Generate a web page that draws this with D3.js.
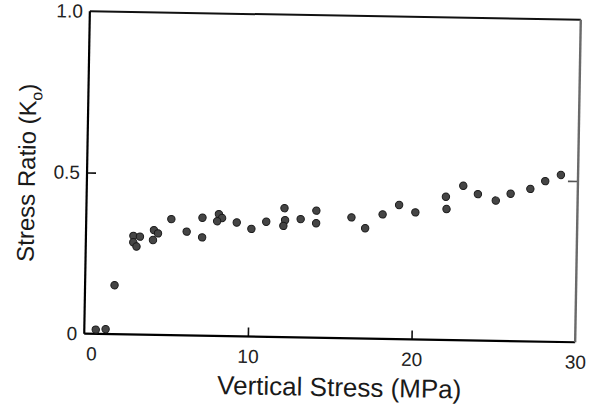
<!DOCTYPE html>
<html>
<head>
<meta charset="utf-8">
<script src="https://cdn.jsdelivr.net/npm/d3@7"></script>
<style>
  body { margin: 0; background: #fff; }
  text { font-family: "Liberation Sans", Arial, sans-serif; }
</style>
</head>
<body>
<div id="chart"></div>
<script>
// values
var stress = [0.7, 1.3, 1.8, 2.9, 3.3, 2.9, 3.1, 4.15, 4.4, 4.1, 5.2, 6.15, 7.1, 7.1,
              8.1, 8.3, 8.0, 9.2, 10.1, 11.0, 12.1, 12.15, 12.05, 13.1, 14.05, 14.05,
              16.2, 17.05, 18.1, 19.1, 20.1, 21.95, 22.0, 23.0, 23.9, 25.0, 25.9, 27.1,
              28.0, 28.95];
var ratio = [0.007, 0.009, 0.152, 0.306, 0.304, 0.286, 0.273, 0.325, 0.315, 0.294, 0.36, 0.322,
             0.366, 0.305, 0.378, 0.366, 0.356, 0.353, 0.334, 0.357, 0.40, 0.363, 0.345,
             0.367, 0.394, 0.355, 0.375, 0.342, 0.386, 0.416, 0.394, 0.444, 0.406, 0.479,
             0.454, 0.435, 0.457, 0.473, 0.498, 0.518];
var xTicks = [0, 10, 20, 30];
var yTicks = [0, 0.5, 1.0];
var yTickLabels = ["0", "0.5", "1.0"];

var margin = {top: 15.5, right: 17, bottom: 72, left: 87},
    width = 595 - margin.left - margin.right,
    height = 410 - margin.top - margin.bottom;

var svg = d3.select("#chart")
  .append("svg")
    .attr("width", 595)
    .attr("height", 410);

// the scan is turned about one degree clockwise
var root = svg.append("g")
    .attr("transform", "rotate(1,332,177)");

var g = root.append("g")
    .attr("transform", "translate(" + margin.left + "," + margin.top + ")");

var x = d3.scaleLinear().domain([0, 30]).range([0, width]);
var y = d3.scaleLinear().domain([0, 1]).range([height, 0]);

// bottom axis, ticks pointing inward
var xAxis = g.append("g")
    .attr("transform", "translate(0," + height + ")")
    .call(d3.axisBottom(x).tickValues(xTicks).tickSizeInner(-9).tickSizeOuter(0).tickPadding(13));
xAxis.select(".domain").remove();
xAxis.selectAll(".tick line")
    .attr("stroke", "#111").attr("stroke-width", 1.6)
    .filter(function(d) { return d === 0 || d === 30; }).remove();
xAxis.selectAll(".tick text")
    .attr("font-size", 19).attr("fill", "#222")
    .attr("dx", function(d) { return d === 0 ? 7 : 0; });

// left axis
var yAxis = g.append("g")
    .call(d3.axisLeft(y).tickValues(yTicks).tickSizeInner(-9).tickSizeOuter(0).tickPadding(7)
      .tickFormat(function(d, i) { return yTickLabels[i]; }));
yAxis.select(".domain").remove();
yAxis.selectAll(".tick line")
    .attr("stroke", "#111").attr("stroke-width", 1.6)
    .filter(function(d) { return d === 0 || d === 1; }).remove();
yAxis.selectAll(".tick text")
    .attr("font-size", 19).attr("fill", "#222");

// right side: only the 0.5 tick
var yRight = g.append("g")
    .attr("transform", "translate(" + width + ",0)")
    .call(d3.axisRight(y).tickValues([0.5]).tickSizeInner(-10).tickSizeOuter(0).tickFormat(""));
yRight.select(".domain").remove();
yRight.selectAll(".tick line").attr("stroke", "#555").attr("stroke-width", 1.6);

// frame
g.append("line").attr("x1", 0).attr("x2", width).attr("y1", 0).attr("y2", 0)
    .attr("stroke", "#111").attr("stroke-width", 2);
g.append("line").attr("x1", 0).attr("x2", 0).attr("y1", 0).attr("y2", height)
    .attr("stroke", "#000").attr("stroke-width", 2.2);
g.append("line").attr("x1", 0).attr("x2", width).attr("y1", height).attr("y2", height)
    .attr("stroke", "#000").attr("stroke-width", 2.2);
g.append("line").attr("x1", width).attr("x2", width).attr("y1", 0).attr("y2", height)
    .attr("stroke", "#6a6a6a").attr("stroke-width", 2.4);

// points
g.selectAll("circle")
    .data(stress)
  .enter().append("circle")
    .attr("cx", function(d) { return x(d); })
    .attr("cy", function(d, i) { return y(ratio[i]) - (ratio[i] < 0.02 ? 2 : 0); })
    .attr("r", 3.7)
    .style("fill", "#454545")
    .style("stroke", "#1a1a1a")
    .style("stroke-width", 1);

// axis titles
root.append("text")
    .attr("x", 343)
    .attr("y", 396)
    .attr("text-anchor", "middle")
    .attr("font-size", 26)
    .attr("fill", "#1a1a1a")
    .text("Vertical Stress (MPa)");

var yt = root.append("text")
    .attr("transform", "translate(35,178) rotate(-90)")
    .attr("text-anchor", "middle")
    .attr("font-size", 24)
    .attr("fill", "#1a1a1a");
yt.append("tspan").text("Stress Ratio (K");
yt.append("tspan").attr("font-size", 16).attr("dy", 6).text("o");
yt.append("tspan").attr("dy", -6).text(")");
</script>
</body>
</html>
